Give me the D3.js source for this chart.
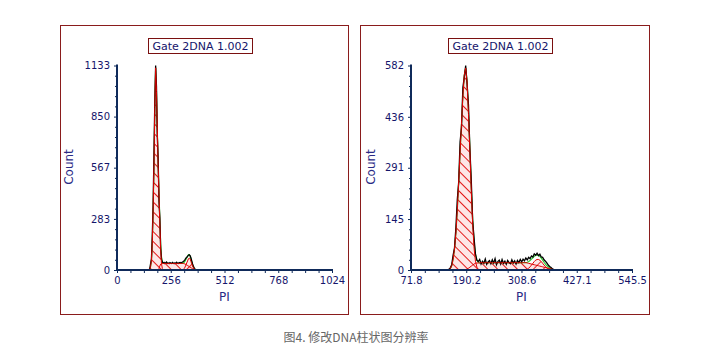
<!DOCTYPE html>
<html><head><meta charset="utf-8">
<script src="https://cdn.jsdelivr.net/npm/d3@7"></script>
<style>
html,body{margin:0;padding:0;background:#fff;}
svg{display:block;}
</style></head>
<body>
<svg id="chart" width="710" height="361"></svg>
<script>
// ---------- DATA ----------
const titleText = "Gate 2DNA 1.002";
const caption = "图4. 修改DNA柱状图分辨率";
const xLabel = "PI", yLabel = "Count";

// Left panel (coarse resolution, 0-1024)
const leftXTicks = [0, 256, 512, 768, 1024];
const leftYTicks = [0, 283, 567, 850, 1133];
const leftPI = [148,152,156,160,164,168,172,176,180,184,188,192,196,200,204,208,212,216,220,224,228,232,236,240,244,248,252,256,260,264,268,272,276,280,284,288,292,296,300,304,308,312,316,320,324,328,332,336,340,344,348,352,356,360,364,368,372,376,380,384,388];
const leftData = [0,0,8,35,60,190,360,640,930,1133,1020,740,620,380,290,120,60,45,38,42,36,40,44,37,39,35,41,38,36,42,39,35,40,37,43,38,36,41,39,42,40,44,47,52,58,66,70,76,82,84,80,68,50,33,20,10,4,1,0,0,0];
const leftG1 = [0,0,4,20,55,150,330,580,900,1120,990,780,580,420,260,110,35,8,0,0,0,0,0,0,0,0,0,0,0,0,0,0,0,0,0,0,0,0,0,0,0,0,0,0,0,0,0,0,0,0,0,0,0,0,0,0,0,0,0,0,0];
const leftS = [0,0,0,0,0,0,0,0,0,0,0,0,0,8,22,33,36,36,36,36,36,36,36,36,36,36,36,36,36,36,36,36,36,36,36,36,36,36,36,36,36,36,36,35,33,31,28,25,22,19,16,13,10,7,5,3,1,0,0,0,0];
const leftG2 = [0,0,0,0,0,0,0,0,0,0,0,0,0,0,0,0,0,0,0,0,0,0,0,0,0,0,0,0,0,0,0,0,0,0,0,0,0,0,0,0,0,0,3,8,16,27,39,50,62,66,62,48,35,22,12,5,2,0,0,0,0];

// Right panel (finer resolution, 71.8-545.5)
const rightXTicks = [71.8, 190.2, 308.6, 427.1, 545.5];
const rightYTicks = [0, 145, 291, 436, 582];
const rightPI = [150,153,156,159,162,165,168,171,174,177,180,183,186,189,192,195,198,201,204,207,210,213,216,219,222,225,228,231,234,237,240,243,246,249,252,255,258,261,264,267,270,273,276,279,282,285,288,291,294,297,300,303,306,309,312,315,318,321,324,327,330,333,336,339,342,345,348,351,354,357,360,363,366,369,372,375,378,381,384,387,390];
const rightData = [0,2,6,15,42,62,120,200,250,365,405,520,548,582,530,470,345,255,140,90,45,28,24,30,17,25,19,31,16,23,27,18,29,20,32,15,24,28,17,30,19,25,16,27,21,18,29,20,26,17,27,21,30,23,31,26,34,29,36,32,40,37,46,42,48,41,45,37,36,29,25,20,14,10,7,3,1,0,0,0,0];
const rightG1 = [0,1,4,12,30,60,105,170,250,335,415,495,555,575,535,445,340,225,130,62,25,8,2,0,0,0,0,0,0,0,0,0,0,0,0,0,0,0,0,0,0,0,0,0,0,0,0,0,0,0,0,0,0,0,0,0,0,0,0,0,0,0,0,0,0,0,0,0,0,0,0,0,0,0,0,0,0,0,0,0,0];
const rightS = [0,0,0,0,0,0,0,0,0,0,0,0,0,0,3,5,8,11,14,17,19,20,20,20,21,21,20,21,21,20,21,21,20,21,21,20,21,21,20,21,21,20,21,21,20,21,21,20,21,21,20,21,21,20,21,21,21,20,19,18,17,16,15,14,13,12,11,10,9,8,7,6,5,4,3,2,1,0,0,0,0];
const rightG2 = [0,0,0,0,0,0,0,0,0,0,0,0,0,0,0,0,0,0,0,0,0,0,0,0,0,0,0,0,0,0,0,0,0,0,0,0,0,0,0,0,0,0,0,0,0,0,0,0,0,0,0,0,0,0,0,0,0,2,5,9,14,19,24,28,30,30,28,24,19,14,10,6,4,2,1,0,0,0,0,0,0];

// ---------- DRAW ----------
const svg = d3.select("#chart");
const AXIS = "#0f2a5a", TXT = "#15156b", RED = "#e00000", GREEN = "#2fcc2f";
const defs = svg.append("defs");
function hatch(id, angle) {
  const p = defs.append("pattern").attr("id", id).attr("patternUnits", "userSpaceOnUse")
    .attr("width", 7).attr("height", 7).attr("patternTransform", `rotate(${angle})`);
  p.append("rect").attr("width", 7).attr("height", 7).attr("fill", "#fde6e6");
  p.append("line").attr("x1", 0.5).attr("y1", 0).attr("x2", 0.5).attr("y2", 7)
    .attr("stroke", RED).attr("stroke-width", 0.9);
}
hatch("hatchA", -45);
hatch("hatchB", 45);

const panels = [
  {box:[60,25,288,289], plot:[117,332,65.5,270], xd:[0,1024], yMax:1133, xt:leftXTicks, yt:leftYTicks,
   pi:leftPI, data:leftData, g1:leftG1, s:leftS, g2:leftG2, title:[148,38], yl:44},
  {box:[360,25,289,289], plot:[411,632,65.5,270], xd:[71.8,545.5], yMax:582, xt:rightXTicks, yt:rightYTicks,
   pi:rightPI, data:rightData, g1:rightG1, s:rightS, g2:rightG2, title:[448,38], yl:36}
];

panels.forEach((P, pi) => {
  const g = svg.append("g");
  g.append("rect").attr("x", P.box[0]+0.5).attr("y", P.box[1]+0.5).attr("width", P.box[2]).attr("height", P.box[3])
    .attr("fill", "#fff").attr("stroke", "#8a1c1c").attr("stroke-width", 1);
  // title
  g.append("rect").attr("x", P.title[0]+0.5).attr("y", P.title[1]+0.5).attr("width", 104).attr("height", 15)
    .attr("fill", "#fff").attr("stroke", "#7a1010").attr("stroke-width", 1);
  g.append("text").attr("x", P.title[0]+52.5).attr("y", P.title[1]+12).attr("text-anchor", "middle")
    .attr("font-family", "DejaVu Sans").attr("font-size", 11).attr("fill", TXT).text(titleText);

  const [x0, x1, yTop, yBot] = P.plot;
  const x = d3.scaleLinear().domain(P.xd).range([x0, x1]);
  const y = d3.scaleLinear().domain([0, P.yMax]).range([yBot, yTop]);

  const cid = "clip" + pi;
  defs.append("clipPath").attr("id", cid).append("rect").attr("x", x0).attr("y", yTop - 3).attr("width", x1 - x0).attr("height", yBot - yTop + 3);
  const plot = g.append("g").attr("clip-path", `url(#${cid})`);

  const rows = P.pi.map((v, i) => ({pi: v, d: P.data[i], g1: P.g1[i], s: P.s[i], g2: P.g2[i], sum: P.g1[i] + P.s[i] + P.g2[i]}));
  const area = key => d3.area().x(d => x(d.pi)).y0(y(0)).y1(d => y(d[key]));
  const line = key => d3.line().x(d => x(d.pi)).y(d => y(d[key]));

  plot.append("path").datum(rows).attr("d", area("s")).attr("fill", "url(#hatchA)");
  plot.append("path").datum(rows).attr("d", area("g2")).attr("fill", "url(#hatchB)").attr("fill-opacity", 0.9);
  plot.append("path").datum(rows).attr("d", area("g1")).attr("fill", "url(#hatchA)");
  plot.append("path").datum(rows).attr("d", line("sum")).attr("fill", "none").attr("stroke", GREEN).attr("stroke-width", 1.2);
  plot.append("path").datum(rows).attr("d", line("d")).attr("fill", "none").attr("stroke", "#000").attr("stroke-width", 1.3);
  ["s", "g2", "g1"].forEach(k => plot.append("path").datum(rows).attr("d", line(k)).attr("fill", "none").attr("stroke", RED).attr("stroke-width", 1));

  // axes
  const xMinor = [];
  for (let i = 0; i < P.xt.length - 1; i++) for (let j = 1; j < 4; j++) xMinor.push(P.xt[i] + (P.xt[i+1] - P.xt[i]) * j / 4);
  const yMinor = [];
  for (let i = 0; i < P.yt.length - 1; i++) for (let j = 1; j < 5; j++) yMinor.push(P.yt[i] + (P.yt[i+1] - P.yt[i]) * j / 5);

  const xa = g.append("g").attr("transform", `translate(0,${yBot})`)
    .call(d3.axisBottom(x).tickValues(P.xt).tickSize(3).tickPadding(4).tickFormat(d => String(d)));
  const xm = g.append("g").attr("transform", `translate(0,${yBot})`)
    .call(d3.axisBottom(x).tickValues(xMinor).tickSize(3).tickFormat(""));
  const ya = g.append("g").attr("transform", `translate(${x0},0)`)
    .call(d3.axisLeft(y).tickValues(P.yt).tickSize(3).tickPadding(4).tickFormat(d => String(d)));
  const ym = g.append("g").attr("transform", `translate(${x0},0)`)
    .call(d3.axisLeft(y).tickValues(yMinor).tickSize(2).tickFormat(""));
  [xa, xm, ya, ym].forEach(a => {
    a.select(".domain").remove();
    a.selectAll("line").attr("stroke", AXIS).attr("stroke-width", 1);
    a.selectAll("text").attr("font-family", "DejaVu Sans").attr("font-size", 10).attr("fill", TXT);
  });
  g.append("line").attr("x1", x0).attr("x2", x0).attr("y1", yTop - 1).attr("y2", yBot + 1).attr("stroke", AXIS).attr("stroke-width", 2);
  g.append("line").attr("x1", x0 - 1).attr("x2", x1 + 1).attr("y1", yBot).attr("y2", yBot).attr("stroke", AXIS).attr("stroke-width", 2);

  g.append("text").attr("x", (x0 + x1) / 2).attr("y", 301).attr("text-anchor", "middle")
    .attr("font-family", "DejaVu Sans").attr("font-size", 12).attr("fill", "#2a2a85").text(xLabel);
  g.append("text").attr("transform", `translate(${x0 - P.yl},167) rotate(-90)`).attr("text-anchor", "middle")
    .attr("font-family", "DejaVu Sans").attr("font-size", 12).attr("fill", "#2a2a85").text(yLabel);
});

svg.append("text").attr("x", 356).attr("y", 342).attr("text-anchor", "middle")
  .attr("font-family", "Noto Sans CJK SC").attr("font-size", 12).attr("fill", "#666").text(caption);
</script>
</body></html>
